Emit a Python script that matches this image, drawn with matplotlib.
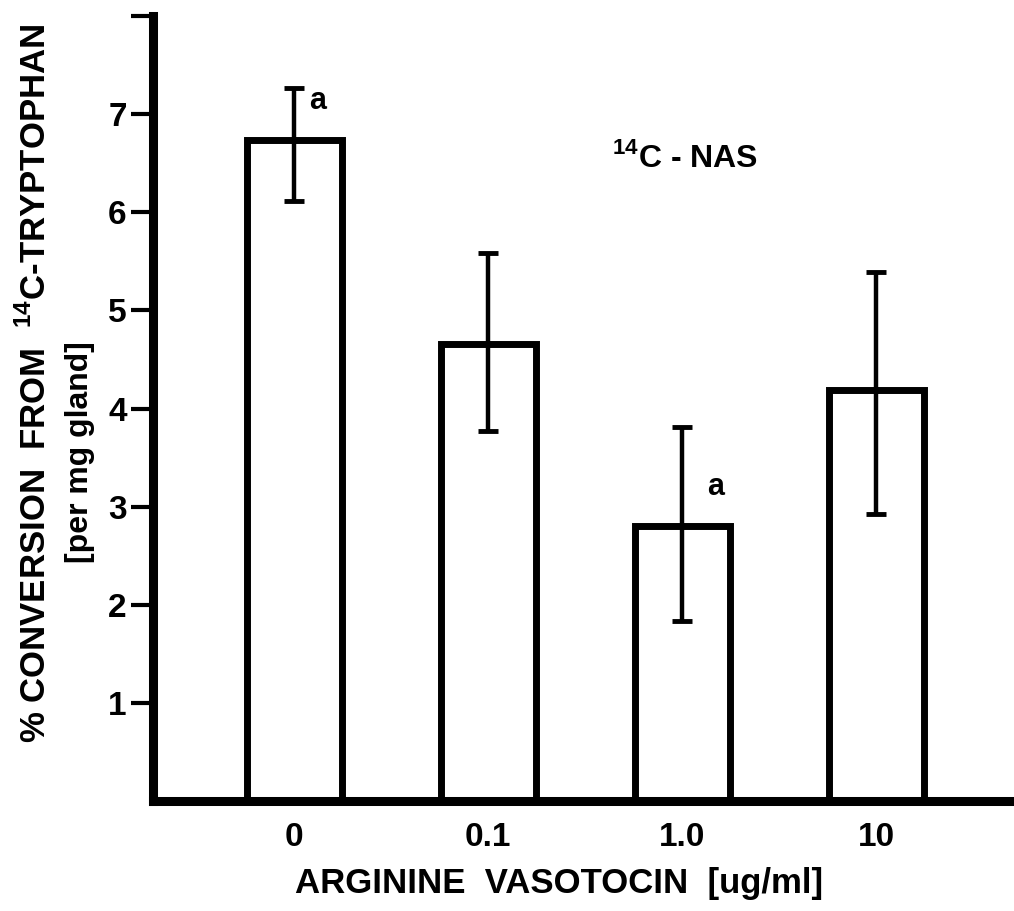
import matplotlib
matplotlib.use("Agg")
import matplotlib.pyplot as plt

plt.rcParams["font.family"] = ["Liberation Sans", "DejaVu Sans"]
plt.rcParams["font.weight"] = "bold"
plt.rcParams["mathtext.fontset"] = "custom"
plt.rcParams["mathtext.rm"] = "Liberation Sans:bold"
plt.rcParams["mathtext.bf"] = "Liberation Sans:bold"

# AVT dose groups and 14C-NAS conversion (mean with SE limits)
doses = ["0", "0.1", "1.0", "10"]
means = [6.74, 4.66, 2.80, 4.19]
upper = [7.27, 5.58, 3.81, 5.39]
lower = [6.11, 3.77, 1.83, 2.93]
y_ticks = [1, 2, 3, 4, 5, 6, 7, 8]
y_tick_labels = ["1", "2", "3", "4", "5", "6", "7", ""]

# groups marked "a": (group index, label y)
marks = [(0, 7.13), (2, 3.20)]

x = list(range(len(doses)))
err = [[m - lo for m, lo in zip(means, lower)],
       [hi - m for m, hi in zip(means, upper)]]

fig = plt.figure(figsize=(10.14, 9.11), dpi=100)
ax = fig.add_axes([0.151, 0.1207, 0.849, 0.8617])

ax.bar(x, means, width=0.49, fill=False, edgecolor="black",
       linewidth=5, joinstyle="miter", zorder=3)
ax.errorbar(x, means, yerr=err, fmt="none", ecolor="black",
            elinewidth=3.2, capsize=7.5, capthick=3.5, zorder=4)

ax.set_xlim(-0.727, 3.71)
ax.set_ylim(0, 8)

for s in ["top", "right"]:
    ax.spines[s].set_visible(False)
for s in ["left", "bottom"]:
    ax.spines[s].set_linewidth(6.5)
    ax.spines[s].set_capstyle("projecting")

ax.set_yticks(y_ticks)
ax.set_yticklabels(y_tick_labels)
ax.set_xticks(x)
ax.set_xticklabels(doses)
ax.tick_params(axis="y", direction="out", length=16, width=3, pad=3,
               labelsize=24)
ax.tick_params(axis="x", length=0, pad=15, labelsize=24)

for i, yv in marks:
    ax.text(i + (0.075 if i == 0 else 0.13), yv, "a", fontsize=22,
            fontweight="bold", ha="left", va="center")

ax.text(1.64, 6.46, r"$^{\mathbf{14}}$C - NAS", fontsize=23,
        fontweight="bold", ha="left", va="baseline")

fig.text(0.035, 1 - 383 / 911,
         r"% CONVERSION  FROM  $^{\mathbf{14}}$C-TRYPTOPHAN",
         rotation=90, ha="center", va="center", fontsize=25,
         fontweight="bold")
fig.text(80 / 1014, 1 - 452 / 911, "[per mg gland]",
         rotation=90, ha="center", va="center", fontsize=23,
         fontweight="bold")
fig.text(559 / 1014, 1 - 883 / 911, "ARGININE  VASOTOCIN  [ug/ml]",
         ha="center", va="center", fontsize=25, fontweight="bold")

fig.savefig("out.png", dpi=100)
